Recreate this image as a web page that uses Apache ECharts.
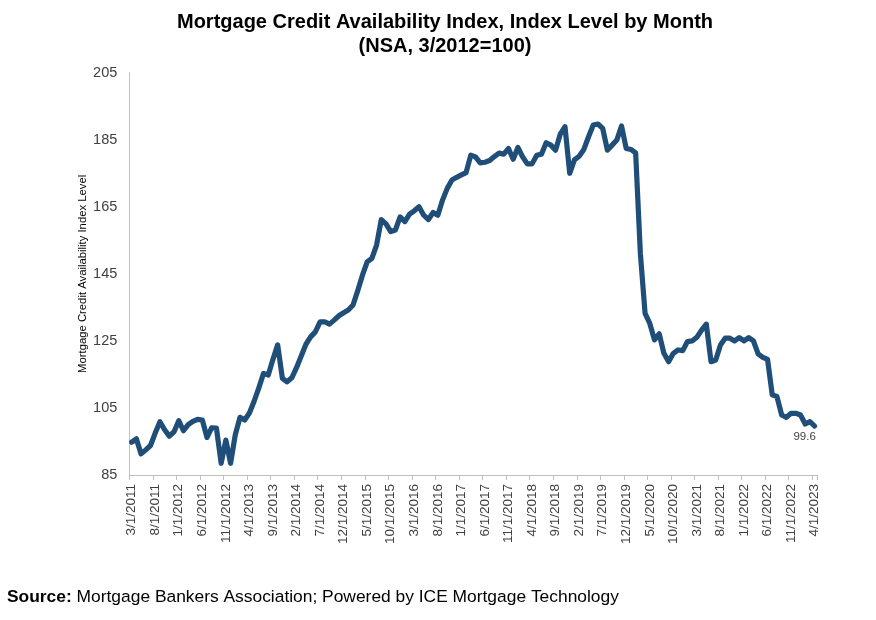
<!DOCTYPE html>
<html>
<head>
<meta charset="utf-8">
<script src="https://cdn.jsdelivr.net/npm/echarts@6/dist/echarts.min.js"></script>
<style>
html,body{margin:0;padding:0;background:#fff;}
#chart{width:876px;height:620px;}
</style>
</head>
<body>
<div id="chart"></div>
<script>
const categories = [
'3/1/2011','4/1/2011','5/1/2011','6/1/2011','7/1/2011','8/1/2011','9/1/2011','10/1/2011','11/1/2011','12/1/2011',
'1/1/2012','2/1/2012','3/1/2012','4/1/2012','5/1/2012','6/1/2012','7/1/2012','8/1/2012','9/1/2012','10/1/2012','11/1/2012','12/1/2012',
'1/1/2013','2/1/2013','3/1/2013','4/1/2013','5/1/2013','6/1/2013','7/1/2013','8/1/2013','9/1/2013','10/1/2013','11/1/2013','12/1/2013',
'1/1/2014','2/1/2014','3/1/2014','4/1/2014','5/1/2014','6/1/2014','7/1/2014','8/1/2014','9/1/2014','10/1/2014','11/1/2014','12/1/2014',
'1/1/2015','2/1/2015','3/1/2015','4/1/2015','5/1/2015','6/1/2015','7/1/2015','8/1/2015','9/1/2015','10/1/2015','11/1/2015','12/1/2015',
'1/1/2016','2/1/2016','3/1/2016','4/1/2016','5/1/2016','6/1/2016','7/1/2016','8/1/2016','9/1/2016','10/1/2016','11/1/2016','12/1/2016',
'1/1/2017','2/1/2017','3/1/2017','4/1/2017','5/1/2017','6/1/2017','7/1/2017','8/1/2017','9/1/2017','10/1/2017','11/1/2017','12/1/2017',
'1/1/2018','2/1/2018','3/1/2018','4/1/2018','5/1/2018','6/1/2018','7/1/2018','8/1/2018','9/1/2018','10/1/2018','11/1/2018','12/1/2018',
'1/1/2019','2/1/2019','3/1/2019','4/1/2019','5/1/2019','6/1/2019','7/1/2019','8/1/2019','9/1/2019','10/1/2019','11/1/2019','12/1/2019',
'1/1/2020','2/1/2020','3/1/2020','4/1/2020','5/1/2020','6/1/2020','7/1/2020','8/1/2020','9/1/2020','10/1/2020','11/1/2020','12/1/2020',
'1/1/2021','2/1/2021','3/1/2021','4/1/2021','5/1/2021','6/1/2021','7/1/2021','8/1/2021','9/1/2021','10/1/2021','11/1/2021','12/1/2021',
'1/1/2022','2/1/2022','3/1/2022','4/1/2022','5/1/2022','6/1/2022','7/1/2022','8/1/2022','9/1/2022','10/1/2022','11/1/2022','12/1/2022',
'1/1/2023','2/1/2023','3/1/2023','4/1/2023'
];

const mcaiValues = [
94.8,95.8,91.3,92.5,93.8,97.5,100.9,98.5,96.6,97.9,
101.2,98.2,100.0,101.0,101.6,101.4,96.2,99.1,99.0,88.5,95.4,88.5,
97.0,102.2,101.4,103.5,107.0,111.0,115.3,114.8,119.5,123.8,113.8,112.8,
114.0,117.0,120.5,124.0,126.2,127.7,130.7,130.7,130.0,131.2,132.5,133.4,
134.2,135.7,140.0,144.6,148.6,149.6,153.6,161.2,159.9,157.6,158.1,162.0,
160.6,162.8,163.8,165.0,162.5,161.2,163.3,162.5,167.0,170.5,173.0,173.8,
174.5,175.2,180.4,179.9,178.1,178.3,178.8,180.0,181.0,180.7,182.4,179.2,
182.7,179.9,177.8,177.8,180.4,180.7,184.1,183.4,181.9,186.7,188.9,175.0,
179.0,180.1,182.1,185.9,189.4,189.7,188.4,181.9,183.4,184.9,189.1,182.4,
182.1,181.1,151.1,133.2,130.2,125.3,127.1,121.3,118.8,121.3,122.3,122.1,
124.8,125.0,126.1,128.2,130.0,118.8,119.3,123.8,125.8,125.8,125.0,126.0,
125.0,126.0,125.0,121.1,120.1,119.5,108.9,108.4,102.9,102.2,103.4,103.4,
102.9,100.2,100.9,99.6
];

const yTicks = { min: 85, max: 205, interval: 20 };
const titleLines = ['Mortgage Credit Availability Index, Index Level by Month', '(NSA, 3/2012=100)'];
const yAxisName = 'Mortgage Credit Availability Index Level';
const sourceLabel = 'Source:';
const sourceText = ' Mortgage Bankers Association; Powered by ICE Mortgage Technology';

const FONT = 'Liberation Sans, Arial, sans-serif';
const chart = echarts.init(document.getElementById('chart'), null, { renderer: 'canvas' });

const lastIdx = mcaiValues.length - 1;

chart.setOption({
  animation: false,
  backgroundColor: '#ffffff',
  grid: { left: 129.3, right: 59, top: 72.7, bottom: 145, containLabel: false },
  xAxis: {
    type: 'category',
    data: categories,
    boundaryGap: true,
    axisLine: { show: true, lineStyle: { color: '#bfbfbf', width: 1 } },
    axisTick: { show: true, interval: 4, length: 5, lineStyle: { color: '#bfbfbf' } },
    axisLabel: {
      show: true, interval: 4, rotate: 90, margin: 9,
      color: '#404040', fontSize: 13.5, fontFamily: FONT
    },
    splitLine: { show: false }
  },
  yAxis: {
    type: 'value',
    min: yTicks.min, max: yTicks.max, interval: yTicks.interval,
    name: yAxisName,
    nameLocation: 'middle',
    nameGap: 41,
    nameMoveOverlap: false,
    nameRotate: 90,
    nameTextStyle: { color: '#000000', fontSize: 11.3, fontFamily: FONT },
    axisLine: { show: true, lineStyle: { color: '#bfbfbf', width: 1 } },
    axisTick: { show: false },
    axisLabel: { color: '#404040', fontSize: 14.5, margin: 12, fontFamily: FONT },
    splitLine: { show: false }
  },
  series: [{
    type: 'line',
    data: mcaiValues,
    showSymbol: false,
    symbol: 'none',
    lineStyle: { color: '#1F4E79', width: 5.2, cap: 'round', join: 'round' },
    itemStyle: { color: '#1F4E79' },
    z: 3,
    markPoint: {
      symbol: 'circle',
      symbolSize: 0,
      silent: true,
      data: [{
        coord: [categories[lastIdx], mcaiValues[lastIdx]],
        value: mcaiValues[lastIdx],
        label: {
          show: true, position: 'bottom', distance: 5, offset: [-10, 0],
          formatter: String(mcaiValues[lastIdx]),
          color: '#404040', fontSize: 11.5, fontFamily: FONT
        }
      }]
    }
  }],
  graphic: [
    {
      type: 'text',
      position: [445, 12],
      style: {
        text: titleLines[0],
        font: 'bold 20px ' + FONT, fill: '#000000', textAlign: 'center'
      }
    },
    {
      type: 'text',
      position: [445, 36],
      style: {
        text: titleLines[1],
        font: 'bold 20px ' + FONT, fill: '#000000', textAlign: 'center'
      }
    },
    {
      type: 'text',
      position: [7, 588.5],
      style: {
        text: '{b|' + sourceLabel + '}{n|' + sourceText + '}',
        rich: {
          b: { fontWeight: 'bold', fontSize: 17.4, fontFamily: FONT, color: '#000' },
          n: { fontSize: 17.4, fontFamily: FONT, color: '#000' }
        }
      }
    }
  ]
});
</script>
</body>
</html>
